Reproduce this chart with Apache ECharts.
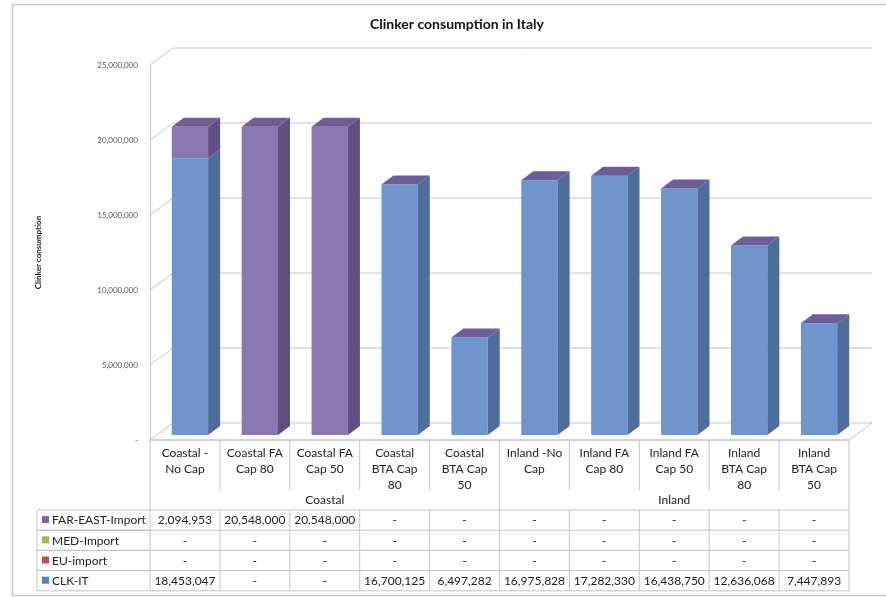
<!DOCTYPE html>
<html>
<head>
<meta charset="utf-8">
<script src="https://cdn.jsdelivr.net/npm/echarts@6/dist/echarts.min.js"></script>
<style>html,body{margin:0;padding:0;background:#fff}#c{width:886px;height:597px}</style>
</head>
<body>
<div id="c"></div>
<script>
// ---- data ----
const categories = ["Coastal -\nNo Cap", "Coastal FA\nCap 80", "Coastal FA\nCap 50", "Coastal\nBTA Cap\n80", "Coastal\nBTA Cap\n50",
                    "Inland -No\nCap", "Inland FA\nCap 80", "Inland FA\nCap 50", "Inland\nBTA Cap\n80", "Inland\nBTA Cap\n50"];
const groups = [["Coastal", 0, 4], ["Inland", 5, 9]];
const seriesNames = ["FAR-EAST-Import", "MED-Import", "EU-import", "CLK-IT"];
const farEast = [2094953, 20548000, 20548000, null, null, null, null, null, null, null];
const medImport = [null, null, null, null, null, null, null, null, null, null];
const euImport = [null, null, null, null, null, null, null, null, null, null];
const clkIT = [18453047, null, null, 16700125, 6497282, 16975828, 17282330, 16438750, 12636068, 7447893];
const yTicks = [0, 5000000, 10000000, 15000000, 20000000, 25000000];
const tableRows = [farEast, medImport, euImport, clkIT];

// ---- style ----
const legendColors = ["#8064a2", "#9bbb59", "#c0504d", "#4f81bd"];
const frontBlue = "#6f95cd", sideBlue = "#4e6c9c";
const frontPurple = "#8a77b2", sidePurple = "#5f4f82", topPurple = "#6f5d97";
const gridColor = "#c4c4c4";
const DX = 23, DY = -17;          // wall depth
const BX = 5, BY = -5;            // bar front offset
const BDX = 12, BDY = -9;         // bar depth
const FONT = "Lato, 'Open Sans', sans-serif";
const fmt = v => (v == null || v === 0) ? "-" : v.toLocaleString("en-US");

const chart = echarts.init(document.getElementById("c"), null, {renderer: "canvas"});

const option = {
  animation: false,
  backgroundColor: "#fff",
  title: {
    text: "Clinker consumption in Italy",
    left: 452, top: 12, textAlign: "center",
    textStyle: {fontSize: 14, fontWeight: "bold", color: "#111", fontFamily: FONT}
  },
  graphic: [{
    type: "rect", left: 10, top: 2, z: -10,
    shape: {width: 900, height: 591},
    style: {fill: "none", stroke: "#c8c8c8", lineWidth: 1.5}
  }],
  grid: {left: 150, right: 37, top: 65, bottom: 157, containLabel: false},
  xAxis: {
    type: "category", data: categories, boundaryGap: true,
    axisLine: {show: false}, axisTick: {show: false}, axisLabel: {show: false}, splitLine: {show: false}
  },
  yAxis: {
    type: "value", min: 0, max: 25000000, interval: 5000000,
    name: "Clinker consumption", nameLocation: "middle", nameGap: 108, nameRotate: 90,
    nameTextStyle: {fontSize: 8, fontWeight: "bold", color: "#222", fontFamily: FONT},
    axisLine: {show: true, lineStyle: {color: gridColor}},
    axisTick: {show: false},
    splitLine: {show: false},
    axisLabel: {margin: 12, fontSize: 8, color: "#555", fontFamily: FONT, formatter: v => fmt(v)}
  },
  series: [
    { // walls / gridlines / floor
      type: "custom", z: 1, silent: true,
      data: yTicks.map(v => [0, v]),
      renderItem: function (params, api) {
        const cs = params.coordSys;
        const v = api.value(1);
        const y = api.coord([0, v])[1];
        const L = cs.x, R = cs.x + cs.width;
        if (v === 0) {
          return {type: "polygon", shape: {points: [[L, y], [R, y], [R + DX, y + DY], [L + DX, y + DY]]},
                  style: {fill: "#fff", stroke: gridColor, lineWidth: 1}};
        }
        return {type: "polyline", shape: {points: [[L, y], [L + DX, y + DY], [R + DX, y + DY]]},
                style: {fill: null, stroke: gridColor, lineWidth: 1}};
      }
    },
    { // 3D stacked bars
      type: "custom", z: 3, silent: true,
      data: categories.map((c, i) => [i, clkIT[i] || 0, euImport[i] || 0, medImport[i] || 0, farEast[i] || 0]),
      renderItem: function (params, api) {
        const i = api.value(0);
        const vals = [api.value(1), api.value(2), api.value(3), api.value(4)];
        const fronts = [frontBlue, "#c0504d", "#9bbb59", frontPurple];
        const sides = [sideBlue, "#8c3836", "#718b3f", sidePurple];
        const colW = api.size([1, 0])[0];
        const bw = colW * 0.52;
        const cx = api.coord([i, 0])[0];
        const fx = cx + BX - bw / 2;
        const yAt = v => api.coord([i, v])[1] + BY;
        const children = [];
        let acc = 0;
        vals.forEach((v, k) => {
          if (v > 0) {
            const y0 = yAt(acc), y1 = yAt(acc + v);
            children.push({type: "rect", shape: {x: fx, y: y1, width: bw, height: y0 - y1}, style: {fill: fronts[k]}});
            children.push({type: "polygon", shape: {points: [[fx + bw, y0], [fx + bw + BDX, y0 + BDY], [fx + bw + BDX, y1 + BDY], [fx + bw, y1]]},
                           style: {fill: sides[k]}});
          }
          acc += v;
        });
        const t = yAt(acc);
        children.push({type: "polygon", shape: {points: [[fx, t], [fx + bw, t], [fx + bw + BDX, t + BDY], [fx + BDX, t + BDY]]},
                       style: {fill: topPurple}});
        return {type: "group", children: children};
      }
    },
    { // data table columns
      type: "custom", z: 4, silent: true,
      data: categories.map((c, i) => [i, 0]),
      renderItem: function (params, api) {
        const i = api.value(0);
        const colW = api.size([1, 0])[0];
        const p = api.coord([i, 0]);
        const cx = p[0], y0 = p[1];
        const x0 = cx - colW / 2, x1 = cx + colW / 2;
        const hdrEnd = y0 + 50, grpEnd = y0 + 70, rowH = 20.2, yEnd = grpEnd + rowH * 4;
        const ls = {stroke: gridColor, lineWidth: 1};
        const ch = [];
        const line = (a, b, c, d) => ch.push({type: "line", shape: {x1: a, y1: b, x2: c, y2: d}, style: ls});
        // horizontal lines
        line(x0, y0, x1, y0);
        line(x0, grpEnd, x1, grpEnd);
        for (let r = 1; r <= 4; r++) line(x0, grpEnd + rowH * r, x1, grpEnd + rowH * r);
        // vertical lines
        const lastOfGroup = groups.some(g => g[2] === i);
        const firstOfGroup = groups.some(g => g[1] === i);
        if (i === 0) line(x0, y0, x0, yEnd);
        if (lastOfGroup) line(x1, y0, x1, yEnd);
        else { line(x1, y0, x1, hdrEnd); line(x1, grpEnd, x1, yEnd); }
        // header text
        ch.push({type: "text", style: {text: categories[i], x: cx, y: y0 + 5, align: "center", verticalAlign: "top",
                 font: "12px " + FONT, fill: "#222", lineHeight: 16}});
        // row values
        tableRows.forEach((arr, r) => {
          ch.push({type: "text", style: {text: fmt(arr[i]), x: cx, y: grpEnd + rowH * r + rowH / 2 + 0.5, align: "center",
                   verticalAlign: "middle", font: "12px " + FONT, fill: "#222"}});
        });
        return {type: "group", children: ch};
      }
    },
    { // group labels
      type: "custom", z: 4, silent: true,
      data: groups.map(g => [g[1], g[2]]),
      renderItem: function (params, api) {
        const a = api.coord([api.value(0), 0]), b = api.coord([api.value(1), 0]);
        const name = groups[params.dataIndex][0];
        return {type: "text", style: {text: name, x: (a[0] + b[0]) / 2, y: a[1] + 60, align: "center", verticalAlign: "middle",
                font: "12px " + FONT, fill: "#222"}};
      }
    },
    { // legend column of the table
      type: "custom", z: 4, silent: true,
      data: seriesNames.map((n, r) => [0, r]),
      renderItem: function (params, api) {
        const r = params.dataIndex;
        const colW = api.size([1, 0])[0];
        const p = api.coord([0, 0]);
        const xR = p[0] - colW / 2, xL = xR - 113;
        const rowH = 20.2, top = p[1] + 70 + rowH * r, bot = top + rowH;
        const ls = {stroke: gridColor, lineWidth: 1};
        return {type: "group", children: [
          {type: "line", shape: {x1: xL, y1: top, x2: xR, y2: top}, style: ls},
          {type: "line", shape: {x1: xL, y1: bot, x2: xR, y2: bot}, style: ls},
          {type: "line", shape: {x1: xL, y1: top, x2: xL, y2: bot}, style: ls},
          {type: "rect", shape: {x: xL + 5, y: top + rowH / 2 - 4, width: 7, height: 7}, style: {fill: legendColors[r]}},
          {type: "text", style: {text: seriesNames[r], x: xL + 15, y: top + rowH / 2 + 0.5, align: "left", verticalAlign: "middle",
                   font: "12px " + FONT, fill: "#222"}}
        ]};
      }
    }
  ]
};
chart.setOption(option);
</script>
</body>
</html>
